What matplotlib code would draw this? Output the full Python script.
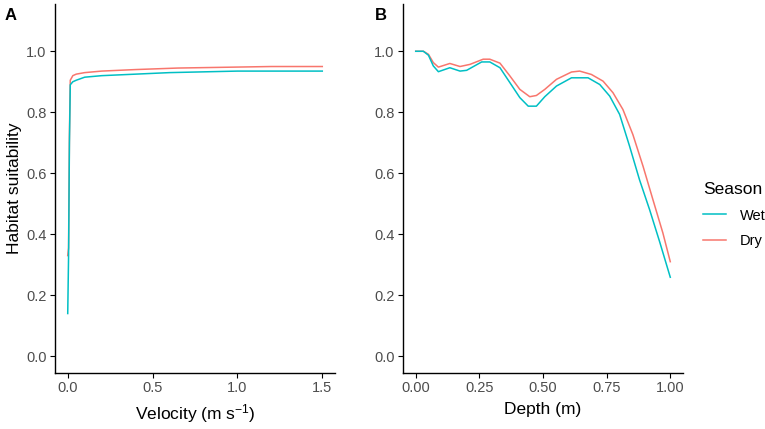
import numpy as np
import matplotlib.pyplot as plt
from matplotlib.lines import Line2D

plt.rcParams['font.family'] = ['Liberation Sans', 'DejaVu Sans']
plt.rcParams['mathtext.default'] = 'regular'

# -------------------------------
# Data
# -------------------------------
vel_wet = [0.0, 0.005, 0.01, 0.015, 0.03, 0.05, 0.1, 0.2, 0.4, 0.6, 1.0, 1.5]
hs_vel_wet = [0.14, 0.33, 0.70, 0.89, 0.90, 0.905, 0.915, 0.92, 0.925, 0.93, 0.935, 0.935]

vel_dry = [0.0, 0.005, 0.01, 0.015, 0.03, 0.05, 0.1, 0.2, 0.4, 0.65, 1.2, 1.5]
hs_vel_dry = [0.33, 0.355, 0.72, 0.905, 0.92, 0.925, 0.93, 0.935, 0.94, 0.945, 0.95, 0.95]

depth_wet = [0.0, 0.03, 0.05, 0.069, 0.089, 0.134, 0.174, 0.2, 0.259, 0.291, 0.331, 0.37,
             0.409, 0.442, 0.474, 0.507, 0.553, 0.612, 0.677, 0.723, 0.762, 0.801, 0.84,
             0.879, 0.919, 0.958, 1.0]
hs_depth_wet = [1.0, 1.0, 0.987, 0.952, 0.933, 0.946, 0.935, 0.9375, 0.965, 0.965, 0.946, 0.897,
                0.848, 0.82, 0.82, 0.851, 0.886, 0.913, 0.913, 0.891, 0.853, 0.793, 0.689,
                0.579, 0.48, 0.376, 0.259]

depth_dry = [0.0, 0.03, 0.05, 0.069, 0.089, 0.134, 0.174, 0.213, 0.265, 0.291, 0.331, 0.37,
             0.409, 0.448, 0.474, 0.507, 0.553, 0.612, 0.644, 0.69, 0.736, 0.775, 0.814,
             0.853, 0.893, 0.932, 0.971, 1.0]
hs_depth_dry = [1.0, 1.0, 0.99, 0.963, 0.948, 0.96, 0.95, 0.957, 0.974, 0.974, 0.961, 0.919,
                0.875, 0.851, 0.855, 0.875, 0.908, 0.932, 0.935, 0.924, 0.902, 0.864, 0.809,
                0.727, 0.623, 0.513, 0.404, 0.31]

col_wet = '#00BFC4'
col_dry = '#F8766D'
gris = '#4D4D4D'

fig = plt.figure(figsize=(7.65, 4.29), dpi=100)
W, H = 765, 429

def ejes(x0, x1, y0, y1):
    return fig.add_axes([x0 / W, 1 - y1 / H, (x1 - x0) / W, (y1 - y0) / H])

axA = ejes(55, 335, 4, 373)
axB = ejes(403, 683, 4, 373)

estilo = dict(lw=1.1, solid_joinstyle='round')
axA.plot(vel_dry, hs_vel_dry, color=col_dry, **estilo)
axA.plot(vel_wet, hs_vel_wet, color=col_wet, **estilo)
axB.plot(depth_dry, hs_depth_dry, color=col_dry, **estilo)
axB.plot(depth_wet, hs_depth_wet, color=col_wet, **estilo)

yticks = [0.0, 0.2, 0.4, 0.6, 0.8, 1.0]
for ax in (axA, axB):
    ax.set_ylim(-0.055, 1.155)
    ax.set_yticks(yticks)
    ax.set_yticklabels([f'{t:.1f}' for t in yticks])
    for s in ('top', 'right'):
        ax.spines[s].set_visible(False)
    for s in ('left', 'bottom'):
        ax.spines[s].set_linewidth(1.0)
    ax.tick_params(direction='out', length=3.5, width=0.8, colors='black',
                   labelcolor=gris, labelsize=10.5, pad=2.5)

axA.set_xlim(-0.075, 1.575)
axA.set_xticks([0.0, 0.5, 1.0, 1.5])
axA.set_xticklabels(['0.0', '0.5', '1.0', '1.5'])
axA.set_xlabel('Velocity (m s$^{-1}$)', fontsize=12.5, labelpad=5)
axA.set_ylabel('Habitat suitability', fontsize=12.5, labelpad=3)

axB.set_xlim(-0.05, 1.05)
axB.set_xticks([0.0, 0.25, 0.5, 0.75, 1.0])
axB.set_xticklabels(['0.00', '0.25', '0.50', '0.75', '1.00'])
axB.set_xlabel('Depth (m)', fontsize=12.5, labelpad=5)

fig.text(5 / W, 1 - 15 / H, 'A', fontsize=12, fontweight='bold', va='center')
fig.text(375 / W, 1 - 15 / H, 'B', fontsize=12, fontweight='bold', va='center')

# Leyenda
handles = [Line2D([], [], color=col_wet, lw=1.1), Line2D([], [], color=col_dry, lw=1.1)]
leg = fig.legend(handles, ['Wet', 'Dry'], title='Season', frameon=False,
                 loc='center left', bbox_to_anchor=(690 / W, 1 - 215 / H),
                 fontsize=10.5, title_fontsize=12.5, handlelength=1.6,
                 labelspacing=0.8, handletextpad=0.9)
leg._legend_box.align = 'left'

fig.savefig('out.png', dpi=100)
